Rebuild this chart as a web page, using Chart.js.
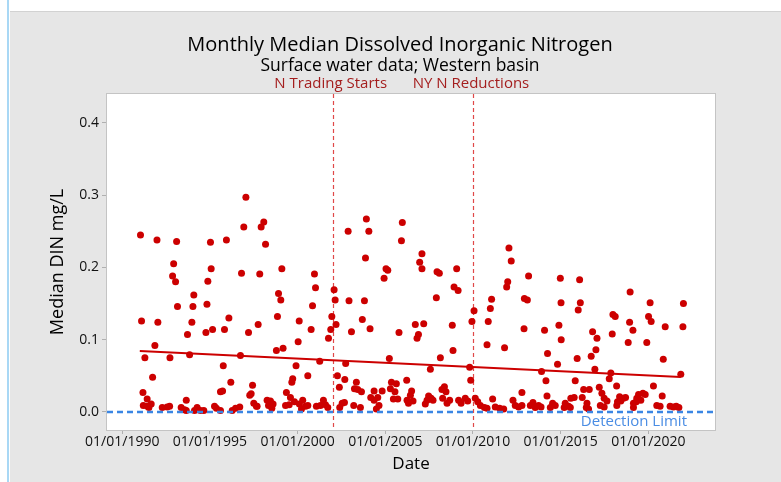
<!DOCTYPE html>
<html>
<head>
<meta charset="utf-8">
<script src="https://cdn.jsdelivr.net/npm/chart.js@4.4.1/dist/chart.umd.min.js"></script>
<style>
  body { margin: 0; background: #fff; }
  #wrap { width: 781px; height: 482px; }
</style>
</head>
<body>
<div id="wrap"><canvas id="dinChart" width="781" height="482"></canvas></div>
<script>
// Chart text
const titleText = 'Monthly Median Dissolved Inorganic Nitrogen';
const subtitleText = 'Surface water data; Western basin';
const yTitle = 'Median DIN mg/L';
const xTitle = 'Date';
const limitLabel = 'Detection Limit';

// Events (vertical dashed lines)
const eventLabels = ['N Trading Starts', 'NY N Reductions'];
const eventYears = [2002.0, 2010.0];

// Axes
const yTicks = [0, 0.1, 0.2, 0.3, 0.4];
const xTicks = [1990, 1995, 2000, 2005, 2010, 2015, 2020];
const detectionLimit = 0.0;

// Fitted trend (end points)
const trendYears = [1991.0, 2021.85];
const trendValues = [0.0845, 0.0485];

// Monthly medians: decimal year, DIN mg/L
const sampleYears = [
  1991.04, 1991.98, 1993.10, 1995.03, 1995.94, 1997.05, 1996.93, 1992.93, 1992.87, 1993.04,
  1995.07, 1994.88, 1996.80, 1997.84, 1994.08, 1993.15, 1994.03, 1994.83, 1991.10, 1992.03,
  1993.97, 1993.72, 1994.77, 1995.15, 1995.83, 1996.08, 1997.20, 1997.75, 1991.86, 1991.29,
  1992.72, 1993.84, 1996.74, 1995.76, 1991.73, 1996.19, 1997.43, 1995.60, 1995.72, 1997.27,
  1997.35, 1991.18, 1991.42, 1993.65, 1997.50, 1997.65, 1991.20, 1991.52, 1991.65, 1991.43,
  1992.28, 1992.56, 1992.70, 1993.36, 1993.55, 1993.65, 1994.12, 1994.27, 1994.46, 1994.65,
  1995.26, 1995.37, 1995.60, 1996.27, 1996.46, 1996.70,
  1997.92, 1998.07, 1998.17, 1999.10, 1998.91, 1999.04, 1998.85, 2000.09, 2000.96, 2001.02,
  2000.85, 2000.77, 2000.03, 1998.79, 1999.17, 1999.91, 2001.26, 2000.58, 1999.72, 1999.67,
  1999.36, 1999.59, 2002.08, 2002.14, 2001.95, 2002.19, 2001.89, 2001.76, 2002.88, 2003.92,
  2004.06, 2003.87, 2005.97, 2005.92, 2005.04, 2005.14, 2004.93, 2002.93, 2003.81, 2003.69,
  2003.07, 2004.13, 2005.78, 2005.23, 2002.74, 2002.27, 2002.69, 2003.35, 2002.38, 2003.24,
  2003.43, 2003.64, 2004.36, 2004.82, 2005.35, 2005.63, 2005.29, 2005.55, 2006.22, 2004.17,
  2004.57, 2004.36, 2005.46, 2005.71, 2006.32, 2004.49, 2004.64, 1997.69, 1998.26, 1998.45,
  1998.34, 1998.60, 1998.53, 1999.31, 1999.52, 1999.82, 2000.10, 2000.29, 2000.45, 2000.22,
  2000.58, 2001.07, 2001.30, 2001.47, 2001.59, 2001.72, 2002.40, 2002.54, 2002.67, 2003.20,
  2003.58,
  2007.09, 2006.96, 2007.09, 2007.95, 2008.08, 2009.07, 2007.91, 2008.92, 2009.15, 2006.71,
  2007.19, 2006.81, 2006.89, 2008.82, 2008.86, 2008.14, 2007.57, 2010.06, 2009.94, 2009.81,
  2009.87, 2012.05, 2012.18, 2011.98, 2011.92, 2013.17, 2014.98, 2011.06, 2010.99, 2010.87,
  2012.93, 2013.10, 2015.02, 2012.91, 2014.08, 2014.90, 2015.03, 2010.80, 2011.80, 2014.25,
  2014.82, 2013.91, 2014.16, 2014.22, 2012.79, 2011.12, 2006.50, 2006.43, 2006.24, 2006.58,
  2007.28, 2007.47, 2007.61, 2007.72, 2007.38, 2008.23, 2008.37, 2008.46, 2008.27, 2008.52,
  2008.67, 2009.18, 2009.32, 2009.56, 2009.70, 2010.13, 2010.27, 2010.42, 2010.65, 2010.80,
  2011.27, 2011.52, 2011.75, 2012.28, 2012.41, 2012.60, 2012.79, 2013.27, 2013.42, 2013.55,
  2013.74, 2013.88, 2014.41, 2014.54, 2014.69,
  2016.08, 2016.12, 2016.00, 2018.96, 2020.10, 2022.00, 2017.98, 2018.11, 2018.93, 2019.12,
  2020.01, 2020.16, 2020.96, 2021.97, 2016.82, 2017.07, 2017.94, 2018.85, 2019.91, 2017.01,
  2016.74, 2015.94, 2020.85, 2016.95, 2017.86, 2017.77, 2021.85, 2015.83, 2016.31, 2016.63,
  2017.20, 2018.19, 2020.29, 2017.35, 2017.48, 2020.79, 2015.58, 2015.77, 2016.23, 2018.36,
  2018.58, 2018.70, 2019.44, 2019.69, 2019.82, 2019.34, 2019.57, 2017.64, 2018.24, 2018.43,
  2019.15, 2019.31, 2015.26, 2015.45, 2015.20, 2015.55, 2016.50, 2016.46, 2016.59, 2017.26,
  2017.48, 2018.20, 2019.15, 2020.48, 2020.67, 2021.24, 2021.43, 2021.59, 2021.74
];
const dinValues = [
  0.245, 0.238, 0.236, 0.235, 0.238, 0.297, 0.256, 0.205, 0.188, 0.180,
  0.198, 0.181, 0.192, 0.191, 0.162, 0.146, 0.146, 0.149, 0.126, 0.124,
  0.124, 0.107, 0.110, 0.114, 0.114, 0.130, 0.110, 0.121, 0.092, 0.075,
  0.075, 0.079, 0.078, 0.064, 0.048, 0.041, 0.037, 0.028, 0.029, 0.023,
  0.025, 0.027, 0.018, 0.016, 0.012, 0.008, 0.009, 0.006, 0.011, 0.008,
  0.006, 0.007, 0.008, 0.006, 0.003, 0.002, 0.002, 0.006, 0.002, 0.002,
  0.008, 0.005, 0.002, 0.002, 0.005, 0.007,
  0.256, 0.263, 0.232, 0.198, 0.164, 0.155, 0.132, 0.126, 0.191, 0.172,
  0.147, 0.114, 0.097, 0.085, 0.088, 0.064, 0.070, 0.050, 0.046, 0.041,
  0.027, 0.020, 0.169, 0.155, 0.132, 0.121, 0.114, 0.102, 0.250, 0.267,
  0.250, 0.213, 0.262, 0.237, 0.198, 0.196, 0.185, 0.154, 0.154, 0.128,
  0.111, 0.115, 0.110, 0.074, 0.067, 0.050, 0.045, 0.041, 0.034, 0.032,
  0.031, 0.028, 0.029, 0.029, 0.041, 0.039, 0.032, 0.028, 0.044, 0.020,
  0.020, 0.016, 0.018, 0.018, 0.012, 0.004, 0.009, 0.008, 0.016, 0.015,
  0.009, 0.011, 0.005, 0.009, 0.010, 0.014, 0.011, 0.016, 0.008, 0.004,
  0.009, 0.008, 0.009, 0.016, 0.010, 0.006, 0.006, 0.012, 0.013, 0.009,
  0.006,
  0.219, 0.207, 0.198, 0.194, 0.192, 0.198, 0.158, 0.173, 0.168, 0.121,
  0.122, 0.102, 0.107, 0.120, 0.085, 0.075, 0.059, 0.140, 0.125, 0.062,
  0.044, 0.227, 0.209, 0.180, 0.173, 0.188, 0.185, 0.156, 0.143, 0.125,
  0.157, 0.155, 0.151, 0.115, 0.113, 0.120, 0.100, 0.093, 0.089, 0.081,
  0.066, 0.056, 0.043, 0.022, 0.027, 0.018, 0.029, 0.023, 0.016, 0.015,
  0.011, 0.022, 0.019, 0.016, 0.016, 0.031, 0.035, 0.028, 0.019, 0.012,
  0.016, 0.016, 0.012, 0.019, 0.015, 0.019, 0.014, 0.009, 0.006, 0.005,
  0.007, 0.005, 0.004, 0.016, 0.009, 0.007, 0.009, 0.009, 0.013, 0.006,
  0.009, 0.007, 0.006, 0.012, 0.009,
  0.183, 0.151, 0.141, 0.166, 0.151, 0.150, 0.135, 0.132, 0.124, 0.113,
  0.132, 0.125, 0.118, 0.118, 0.111, 0.102, 0.108, 0.096, 0.096, 0.086,
  0.077, 0.074, 0.073, 0.059, 0.054, 0.046, 0.052, 0.043, 0.031, 0.031,
  0.034, 0.036, 0.036, 0.026, 0.019, 0.022, 0.019, 0.020, 0.020, 0.021,
  0.019, 0.020, 0.024, 0.026, 0.024, 0.019, 0.016, 0.015, 0.014, 0.015,
  0.012, 0.014, 0.012, 0.008, 0.006, 0.006, 0.012, 0.006, 0.004, 0.009,
  0.007, 0.009, 0.006, 0.009, 0.008, 0.008, 0.007, 0.008, 0.006
];

const FONT = "'Open Sans', 'Noto Sans', sans-serif";

// backgrounds, reference lines and the extra texts
const decorations = {
    id: 'decorations',
    beforeDraw(chart) {
        const { ctx, chartArea: a, width, height } = chart;
        ctx.save();
        ctx.fillStyle = '#ffffff';
        ctx.fillRect(0, 0, width, height);
        ctx.fillStyle = '#a9d8f5';
        ctx.fillRect(7, 0, 2, height);
        ctx.fillStyle = '#e6e6e6';
        ctx.fillRect(10, 11, width - 10, height - 11);
        ctx.fillStyle = '#d2d2d2';
        ctx.fillRect(10, 11, width - 10, 1);
        ctx.fillStyle = '#ffffff';
        ctx.fillRect(a.left, a.top, a.right - a.left, a.bottom - a.top);
        ctx.restore();
    },
    beforeDatasetsDraw(chart) {
        const { ctx, chartArea: a, scales: { x } } = chart;
        ctx.save();
        ctx.lineWidth = 1.2;
        ctx.strokeStyle = '#e04848';
        ctx.setLineDash([4, 3]);
        eventYears.forEach(yr => {
            const px = Math.round(x.getPixelForValue(yr)) + 0.5;
            ctx.beginPath();
            ctx.moveTo(px, a.top);
            ctx.lineTo(px, a.bottom);
            ctx.stroke();
        });
        ctx.restore();
    },
    afterDatasetsDraw(chart) {
        const { ctx, chartArea: a, scales: { x, y } } = chart;
        ctx.save();
        // detection limit
        const py = y.getPixelForValue(detectionLimit);
        ctx.strokeStyle = '#3a86e4';
        ctx.lineWidth = 2.5;
        ctx.setLineDash([6, 4]);
        ctx.beginPath();
        ctx.moveTo(a.left, py);
        ctx.lineTo(a.right, py);
        ctx.stroke();
        ctx.setLineDash([]);
        ctx.fillStyle = '#4a8de4';
        ctx.font = '15px ' + FONT;
        ctx.textAlign = 'right';
        ctx.textBaseline = 'alphabetic';
        ctx.fillText(limitLabel, a.right - 28, py + 14);

        // plot frame
        ctx.strokeStyle = '#c4c4c4';
        ctx.lineWidth = 1;
        ctx.strokeRect(a.left - 0.5, a.top - 0.5, a.right - a.left + 1, a.bottom - a.top + 1);

        // titles
        ctx.textAlign = 'center';
        ctx.fillStyle = '#000000';
        ctx.font = '20px ' + FONT;
        ctx.fillText(titleText, 400, 51);
        ctx.font = '17.5px ' + FONT;
        ctx.fillText(subtitleText, 400, 71);

        // event labels
        ctx.fillStyle = '#a41e1e';
        ctx.font = '15px ' + FONT;
        eventYears.forEach((yr, i) => {
            ctx.fillText(eventLabels[i], x.getPixelForValue(yr) - 2, 88);
        });
        ctx.restore();
    }
};

const points = sampleYears.map((yr, i) => ({ x: yr, y: dinValues[i] }));
const trend = trendYears.map((yr, i) => ({ x: yr, y: trendValues[i] }));

const ctx = document.getElementById('dinChart').getContext('2d');
const dinChart = new Chart(ctx, {
    type: 'scatter',
    data: {
        datasets: [
            {
                label: 'Trend',
                type: 'line',
                data: trend,
                borderColor: '#cc0000',
                borderWidth: 2,
                pointRadius: 0,
                fill: false,
                order: 0
            },
            {
                label: 'Median DIN',
                data: points,
                backgroundColor: '#cc0000',
                borderWidth: 0,
                pointRadius: 3.5,
                order: 1
            }
        ]
    },
    options: {
        responsive: false,
        animation: false,
        layout: { padding: { top: 94, right: 66, bottom: 0, left: 0 } },
        plugins: {
            legend: { display: false },
            tooltip: { enabled: false }
        },
        scales: {
            x: {
                type: 'linear',
                min: 1989.13,
                max: 2023.8,
                afterBuildTicks: s => { s.ticks = xTicks.map(v => ({ value: v })); },
                afterFit: s => { s.height = 52; },
                ticks: {
                    callback: v => '01/01/' + v,
                    font: { family: FONT, size: 14 },
                    color: '#111111',
                    padding: 0,
                    maxRotation: 0,
                    autoSkip: false
                },
                grid: { drawOnChartArea: false, drawTicks: true, tickLength: 4, color: '#b0b0b0' },
                border: { display: false },
                title: {
                    display: true,
                    text: xTitle,
                    font: { family: FONT, size: 17 },
                    color: '#000000',
                    padding: { top: 0, bottom: 8 }
                }
            },
            y: {
                min: -0.025,
                max: 0.44,
                afterBuildTicks: s => { s.ticks = yTicks.map(v => ({ value: v })); },
                afterFit: s => { s.width = 107; },
                ticks: {
                    callback: v => v.toFixed(1),
                    font: { family: FONT, size: 14 },
                    color: '#111111',
                    padding: 3
                },
                grid: { drawOnChartArea: false, drawTicks: true, tickLength: 5, color: '#b0b0b0' },
                border: { display: false },
                title: {
                    display: true,
                    text: yTitle,
                    font: { family: FONT, size: 18 },
                    color: '#000000',
                    padding: { top: 47, bottom: 0 }
                }
            }
        }
    },
    plugins: [decorations]
});
</script>
</body>
</html>
